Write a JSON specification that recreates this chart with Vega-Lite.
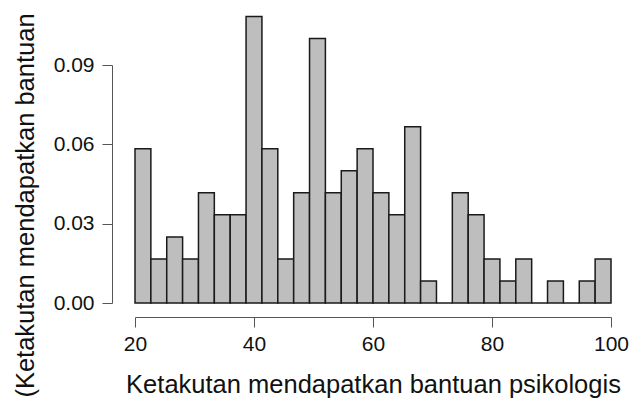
{
  "$schema": "https://vega.github.io/schema/vega-lite/v6.json",
  "width": 476,
  "height": 238,
  "autosize": {"type": "none"},
  "padding": {"left": 135, "top": 65, "right": 18, "bottom": 98},
  "background": "white",
  "config": {"view": {"stroke": null}, "font": "Liberation Sans"},
  "data": {"values": [
    {"start": 20.000, "end": 22.667, "density": 0.05833},
    {"start": 22.667, "end": 25.333, "density": 0.01667},
    {"start": 25.333, "end": 28.000, "density": 0.02500},
    {"start": 28.000, "end": 30.667, "density": 0.01667},
    {"start": 30.667, "end": 33.333, "density": 0.04167},
    {"start": 33.333, "end": 36.000, "density": 0.03333},
    {"start": 36.000, "end": 38.667, "density": 0.03333},
    {"start": 38.667, "end": 41.333, "density": 0.10833},
    {"start": 41.333, "end": 44.000, "density": 0.05833},
    {"start": 44.000, "end": 46.667, "density": 0.01667},
    {"start": 46.667, "end": 49.333, "density": 0.04167},
    {"start": 49.333, "end": 52.000, "density": 0.10000},
    {"start": 52.000, "end": 54.667, "density": 0.04167},
    {"start": 54.667, "end": 57.333, "density": 0.05000},
    {"start": 57.333, "end": 60.000, "density": 0.05833},
    {"start": 60.000, "end": 62.667, "density": 0.04167},
    {"start": 62.667, "end": 65.333, "density": 0.03333},
    {"start": 65.333, "end": 68.000, "density": 0.06667},
    {"start": 68.000, "end": 70.667, "density": 0.00833},
    {"start": 70.667, "end": 73.333, "density": 0.0},
    {"start": 73.333, "end": 76.000, "density": 0.04167},
    {"start": 76.000, "end": 78.667, "density": 0.03333},
    {"start": 78.667, "end": 81.333, "density": 0.01667},
    {"start": 81.333, "end": 84.000, "density": 0.00833},
    {"start": 84.000, "end": 86.667, "density": 0.01667},
    {"start": 86.667, "end": 89.333, "density": 0.0},
    {"start": 89.333, "end": 92.000, "density": 0.00833},
    {"start": 92.000, "end": 94.667, "density": 0.0},
    {"start": 94.667, "end": 97.333, "density": 0.00833},
    {"start": 97.333, "end": 100.000, "density": 0.01667}
  ]},
  "mark": {"type": "bar", "fill": "#bebebe", "stroke": "#1a1a1a", "strokeWidth": 1.5, "clip": false},
  "encoding": {
    "x": {
      "field": "start", "type": "quantitative",
      "scale": {"domain": [20, 100], "nice": false, "zero": false},
      "axis": {
        "values": [20, 40, 60, 80, 100],
        "grid": false,
        "offset": 14,
        "labelFlush": false,
        "labelOverlap": false,
        "domainColor": "#555555", "tickColor": "#555555",
        "domainWidth": 1, "tickWidth": 1, "tickSize": 10,
        "labelFontSize": 21, "labelColor": "#111111", "labelPadding": 6,
        "labelFont": "Liberation Sans",
        "title": "Ketakutan mendapatkan bantuan psikologis",
        "titleFontSize": 25.5, "titleFontWeight": "normal", "titleColor": "#111111",
        "titleFont": "Liberation Sans",
        "titleBaseline": "alphabetic", "titleY": 75, "titleAnchor": "middle"
      }
    },
    "x2": {"field": "end"},
    "y": {
      "field": "density", "type": "quantitative",
      "scale": {"domain": [0, 0.09], "nice": false, "zero": true},
      "axis": {
        "values": [0, 0.03, 0.06, 0.09],
        "format": ".2f",
        "grid": false,
        "offset": 23,
        "labelFlush": false,
        "domainColor": "#555555", "tickColor": "#555555",
        "domainWidth": 1, "tickWidth": 1, "tickSize": 10,
        "labelFontSize": 21, "labelColor": "#111111", "labelPadding": 8,
        "labelFont": "Liberation Sans",
        "title": "(Ketakutan mendapatkan bantuan",
        "titleFontSize": 25.5, "titleFontWeight": "normal", "titleColor": "#111111",
        "titleFont": "Liberation Sans",
        "titleAngle": 270, "titleBaseline": "alphabetic", "titleAlign": "center",
        "titleX": -79, "titleY": 140
      }
    },
    "y2": {"datum": 0}
  }
}
